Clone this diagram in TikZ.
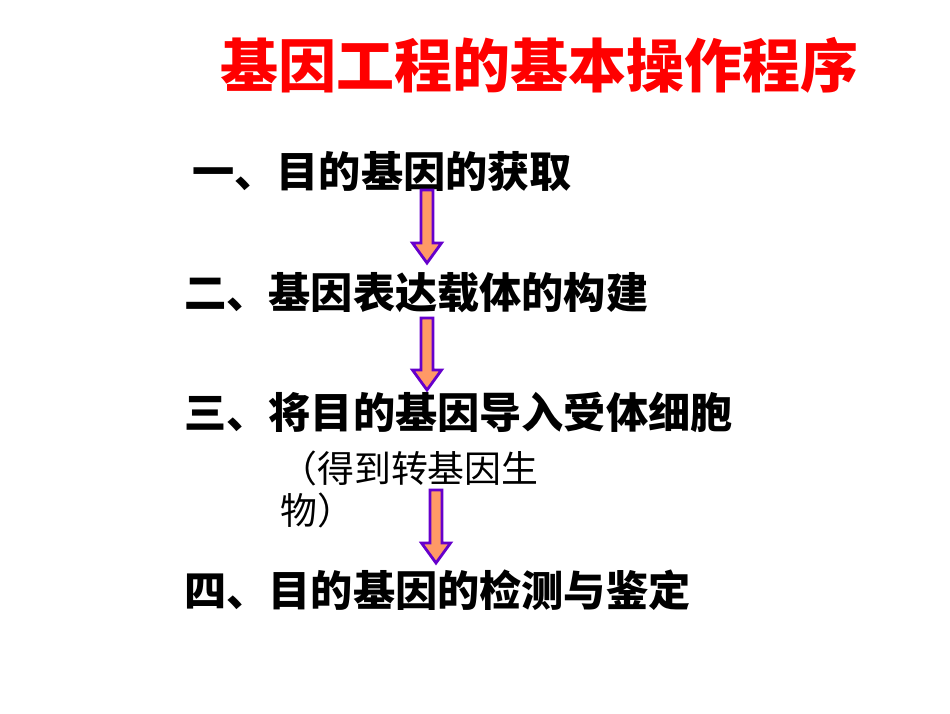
\documentclass[tikz,border=0pt]{standalone}
\usepackage{fontspec}
\newfontfamily\cjk{Noto Sans CJK SC}
\usetikzlibrary{calc}
\definecolor{titlered}{RGB}{255,0,0}
\definecolor{arrowfill}{RGB}{255,153,102}
\definecolor{arrowline}{RGB}{102,0,204}
\tikzset{
  step text/.style={anchor=west, inner sep=0pt, font=\cjk\bfseries\fontsize{24}{28}\selectfont},
  note text/.style={anchor=west, inner sep=0pt, font=\cjk\fontsize{21}{25}\selectfont},
  blockarrow/.style={fill=arrowfill, draw=arrowline, line width=1.6pt, line join=miter}
}
\begin{document}
\begin{tikzpicture}
    \useasboundingbox[fill=white] (0,0) rectangle (19,14.26);
    \node[anchor=west, inner sep=0pt, text=titlered, font=\cjk\bfseries\fontsize{33}{38}\selectfont] (title) at (4.40,12.96) {基因工程的基本操作程序};
    \node[step text] (get) at (3.84,10.82) {一、目的基因的获取};
    \node[step text] (build) at (3.68,8.40) {二、基因表达载体的构建};
    \node[step text] (import) at (3.68,6.02) {三、将目的基因导入受体细胞};
    \node[note text] (note1) at (5.60,4.90) {（得到转基因生};
    \node[note text] (note2) at (5.60,4.06) {物）};
    \node[step text] (check) at (3.68,2.46) {四、目的基因的检测与鉴定};
    \foreach \n/\x/\top/\tip in {1/8.54/10.46/9.00, 2/8.54/7.90/6.46, 3/8.72/4.46/3.00}{
        \coordinate (from\n) at (\x,\top);
        \coordinate (to\n) at (\x,\tip);
        \draw[blockarrow] ($(from\n)+(-0.12,0)$) -- ($(to\n)+(-0.12,0.4)$) -- ($(to\n)+(-0.29,0.4)$)
            -- (to\n) -- ($(to\n)+(0.29,0.4)$) -- ($(to\n)+(0.12,0.4)$) -- ($(from\n)+(0.12,0)$) -- cycle;
    }
\end{tikzpicture}
\end{document}
